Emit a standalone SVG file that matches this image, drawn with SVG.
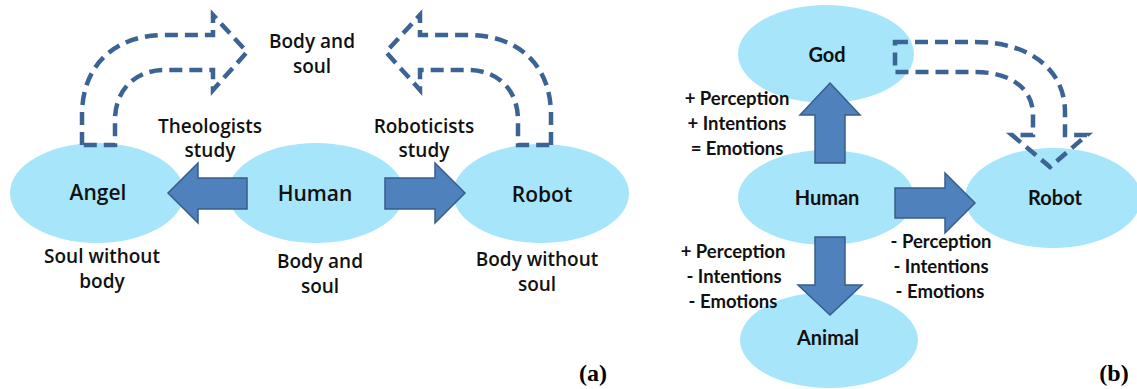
<svg xmlns="http://www.w3.org/2000/svg" width="1137" height="389" viewBox="0 0 1137 389">
<style>
.ell{fill:#a6e5fa;stroke:none}
.blk{fill:#4f81bd;stroke:#385d8a;stroke-width:1.5;stroke-linejoin:miter}
.dash{fill:none;stroke:#3b6394;stroke-width:4.5;stroke-dasharray:13 7;stroke-linejoin:miter}
.ta{font-family:"Open Sans","Liberation Sans",sans-serif;font-weight:600;font-size:19px;fill:#111;text-anchor:middle}
.na{font-family:"Open Sans","Liberation Sans",sans-serif;font-weight:600;font-size:21px;fill:#111;text-anchor:middle}
.tb{font-family:Lato,"Liberation Sans",sans-serif;font-weight:700;font-size:18.5px;fill:#111;text-anchor:middle}
.nb{font-family:Lato,"Liberation Sans",sans-serif;font-weight:700;font-size:20px;fill:#111;text-anchor:middle}
.lab{font-family:"Liberation Serif",serif;font-weight:700;font-size:24px;fill:#000;text-anchor:middle}
</style>
<rect width="1137" height="389" fill="#fff"/>
<!-- Panel (a) -->
<g id="angel"><ellipse class="ell" cx="97" cy="193" rx="87" ry="50"/><text class="na" x="98" y="200">Angel</text></g>
<g id="human-a"><ellipse class="ell" cx="316" cy="193" rx="88" ry="50"/><text class="na" x="315" y="201">Human</text></g>
<g id="robot-a"><ellipse class="ell" cx="541" cy="193.5" rx="88" ry="49.5"/><text class="na" x="542" y="202">Robot</text></g>
<g id="connectors-a">
<path class="dash" d="M82,145 L82,115 C82,65 115,35 165,35 L213,35 L213,15 L247,52 L213,90 L213,70 L165,70 C135,70 115,90 115,120 L115,145 Z"/>
<path class="dash" d="M551,145 L551,115 C551,65 518,35 468,35 L420,35 L420,15 L386,52 L420,90 L420,70 L468,70 C498,70 518,90 518,120 L518,145 Z"/>
<polygon class="blk" points="168,193 198,163 198,178 247,178 247,209 198,209 198,223"/>
<polygon class="blk" points="465,193 435,163 435,178 385,178 385,209 435,209 435,223"/>
</g>
<g id="labels-a">
<text class="ta" x="312" y="48">Body and</text>
<text class="ta" x="312" y="73">soul</text>
<text class="ta" x="210" y="133">Theologists</text>
<text class="ta" x="210" y="157">study</text>
<text class="ta" x="424" y="133">Roboticists</text>
<text class="ta" x="424" y="157">study</text>
<text class="ta" x="102" y="263">Soul without</text>
<text class="ta" x="102" y="288">body</text>
<text class="ta" x="320" y="268">Body and</text>
<text class="ta" x="320" y="293">soul</text>
<text class="ta" x="537" y="266">Body without</text>
<text class="ta" x="537" y="291">soul</text>
<text class="lab" x="593" y="381">(a)</text>
</g>
<!-- Panel (b) -->
<g id="god"><ellipse class="ell" cx="826" cy="54" rx="88" ry="49"/><text class="nb" x="827" y="62">God</text></g>
<g id="human-b"><ellipse class="ell" cx="826" cy="197.5" rx="88" ry="47.5"/><text class="nb" x="827" y="205">Human</text></g>
<g id="robot-b"><ellipse class="ell" cx="1053" cy="198" rx="88" ry="50"/><text class="nb" x="1055" y="205">Robot</text></g>
<g id="animal"><ellipse class="ell" cx="829" cy="340" rx="89" ry="48"/><text class="nb" x="828" y="345">Animal</text></g>
<g id="connectors-b">
<path class="dash" d="M895,42 L975,42 C1030,42 1065,70 1065,112 L1065,135 L1087,135 L1050,167 L1012,135 L1033,135 L1033,115 C1033,88 1010,72 975,72 L895,72 Z"/>
<polygon class="blk" points="830,83 860,115 845,115 845,163 815,163 815,115 800,115"/>
<polygon class="blk" points="895,188 945,188 945,173 975,203 945,233 945,218 895,218"/>
<polygon class="blk" points="815,237 845,237 845,285 862,285 830,315 798,285 815,285"/>
</g>
<g id="labels-b">
<text class="tb" x="737" y="105">+ Perception</text>
<text class="tb" x="737" y="130">+ Intentions</text>
<text class="tb" x="737" y="155">= Emotions</text>
<text class="tb" x="733" y="258">+ Perception</text>
<text class="tb" x="734" y="283">- Intentions</text>
<text class="tb" x="733" y="308">- Emotions</text>
<text class="tb" x="941" y="248">- Perception</text>
<text class="tb" x="941" y="273">- Intentions</text>
<text class="tb" x="940" y="298">- Emotions</text>
<text class="lab" x="1114" y="381">(b)</text>
</g>
</svg>
